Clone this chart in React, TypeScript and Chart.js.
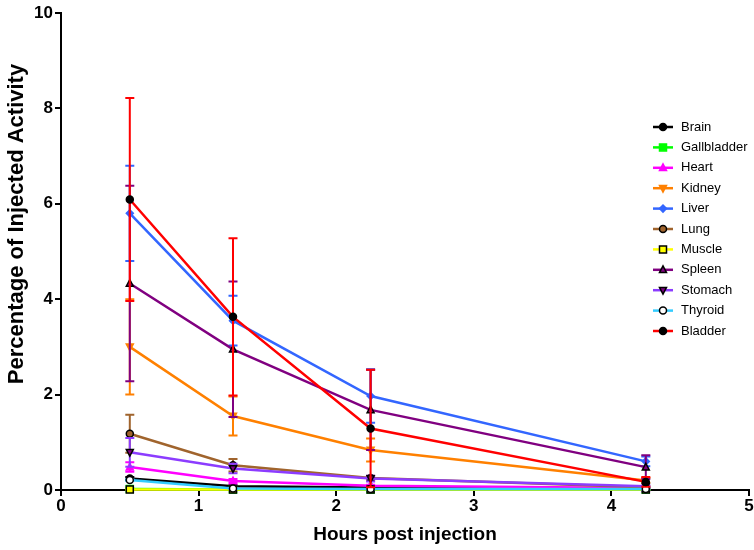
import React, { useEffect, useRef } from "react";
import { Chart, registerables } from "chart.js";

Chart.register(...registerables);

const hours = [0.5, 1.25, 2.25, 4.25];
const organNames = ["Brain", "Gallbladder", "Heart", "Kidney", "Liver", "Lung", "Muscle", "Spleen", "Stomach", "Thyroid", "Bladder"];

const brain = [0.24, 0.08, 0.05, 0.03];
const brainSd = [0.03, 0.02, 0.01, 0.01];
const gallbladder = [0.02, 0.01, 0.01, 0.01];
const gallbladderSd = [0.01, 0.01, 0.01, 0.01];
const heart = [0.48, 0.19, 0.09, 0.04];
const heartSd = [0.1, 0.04, 0.02, 0.01];
const kidney = [3.0, 1.55, 0.84, 0.2];
const kidneySd = [1.0, 0.41, 0.24, 0.05];
const liver = [5.8, 3.55, 1.97, 0.6];
const liverSd = [1.0, 0.52, 0.56, 0.1];
const lung = [1.18, 0.52, 0.25, 0.06];
const lungSd = [0.4, 0.13, 0.05, 0.02];
const muscle = [0.01, 0.01, 0.01, 0.01];
const muscleSd = [0.005, 0.005, 0.005, 0.005];
const spleen = [4.33, 2.95, 1.68, 0.48];
const spleenSd = [2.05, 1.42, 0.84, 0.25];
const stomach = [0.79, 0.45, 0.24, 0.08];
const stomachSd = [0.3, 0.1, 0.06, 0.02];
const thyroid = [0.21, 0.03, 0.02, 0.02];
const thyroidSd = [0.02, 0.01, 0.01, 0.01];
const bladder = [6.09, 3.63, 1.29, 0.17];
const bladderSd = [2.13, 1.65, 1.23, 0.1];

const seriesValues = [brain, gallbladder, heart, kidney, liver, lung, muscle, spleen, stomach, thyroid, bladder];
const seriesSd = [brainSd, gallbladderSd, heartSd, kidneySd, liverSd, lungSd, muscleSd, spleenSd, stomachSd, thyroidSd, bladderSd];

const xTicks = [0, 1, 2, 3, 4, 5];
const yTicks = [0, 2, 4, 6, 8, 10];
const xTitle = "Hours post injection";
const yTitle = "Percentage of Injected Activity";

const lineColors = ["#000000", "#00FF00", "#FF00FF", "#FF8000", "#3366FF", "#A0642D", "#FFFF00", "#800080", "#8C3CFF", "#33CCFF", "#FF0000"];
const markerFill = ["#000000", "#00FF00", "#FF00FF", "#FF8000", "#3366FF", "#A0642D", "#FFFF00", "#800080", "#800080", "#FFFFFF", "#000000"];
const markerBorder = ["#000000", "#00FF00", "#FF00FF", "#FF8000", "#3366FF", "#000000", "#000000", "#000000", "#000000", "#000000", "#000000"];
const markerShape = ["circle", "rect", "triangle", "down", "rectRot", "circle", "rect", "triangle", "down", "circle", "circle"];

const FONT = "'Liberation Sans', Arial, sans-serif";

function drawMarker(ctx: CanvasRenderingContext2D, shape: string, x: number, y: number, r: number, fill: string, stroke: string) {
  ctx.save();
  ctx.beginPath();
  if (shape === "circle") {
    ctx.arc(x, y, r, 0, Math.PI * 2);
  } else if (shape === "rect") {
    ctx.rect(x - r, y - r, 2 * r, 2 * r);
  } else if (shape === "triangle") {
    ctx.moveTo(x, y - r * 1.1);
    ctx.lineTo(x + r, y + r * 0.8);
    ctx.lineTo(x - r, y + r * 0.8);
    ctx.closePath();
  } else if (shape === "down") {
    ctx.moveTo(x, y + r * 1.1);
    ctx.lineTo(x + r, y - r * 0.8);
    ctx.lineTo(x - r, y - r * 0.8);
    ctx.closePath();
  } else if (shape === "rectRot") {
    ctx.moveTo(x, y - r);
    ctx.lineTo(x + r, y);
    ctx.lineTo(x, y + r);
    ctx.lineTo(x - r, y);
    ctx.closePath();
  }
  ctx.fillStyle = fill;
  ctx.fill();
  ctx.lineWidth = 1.5;
  ctx.strokeStyle = stroke;
  ctx.stroke();
  ctx.restore();
}

const errorBarPlugin = {
  id: "errorBars",
  beforeDatasetDraw(chart: any, args: any) {
    const i = args.index;
    const ctx = chart.ctx;
    const xs = chart.scales.x;
    const ys = chart.scales.y;
    const vals = seriesValues[i];
    const sds = seriesSd[i];
    ctx.save();
    ctx.strokeStyle = lineColors[i];
    ctx.lineWidth = 2;
    for (let j = 0; j < vals.length; j++) {
      const px = xs.getPixelForValue(hours[j]);
      const top = ys.getPixelForValue(vals[j] + sds[j]);
      const bot = ys.getPixelForValue(Math.max(0, vals[j] - sds[j]));
      ctx.beginPath();
      ctx.moveTo(px, top);
      ctx.lineTo(px, bot);
      ctx.moveTo(px - 4.5, top);
      ctx.lineTo(px + 4.5, top);
      ctx.moveTo(px - 4.5, bot);
      ctx.lineTo(px + 4.5, bot);
      ctx.stroke();
    }
    ctx.restore();
  },
};

const markerPlugin = {
  id: "markers",
  afterDatasetDraw(chart: any, args: any) {
    const i = args.index;
    const ctx = chart.ctx;
    const xs = chart.scales.x;
    const ys = chart.scales.y;
    const vals = seriesValues[i];
    for (let j = 0; j < vals.length; j++) {
      drawMarker(ctx, markerShape[i], xs.getPixelForValue(hours[j]), ys.getPixelForValue(vals[j]), 3.5, markerFill[i], markerBorder[i]);
    }
  },
};

const legendAndTitles = {
  id: "legendAndTitles",
  afterDraw(chart: any) {
    const ctx = chart.ctx;
    const area = chart.chartArea;
    ctx.save();
    ctx.font = `13px ${FONT}`;
    ctx.textBaseline = "middle";
    ctx.textAlign = "left";
    for (let i = 0; i < organNames.length; i++) {
      const y = 127 + i * 20.4;
      ctx.strokeStyle = lineColors[i];
      ctx.lineWidth = 2.5;
      ctx.beginPath();
      ctx.moveTo(653, y);
      ctx.lineTo(673, y);
      ctx.stroke();
      drawMarker(ctx, markerShape[i], 663, y, 3.5, markerFill[i], markerBorder[i]);
      ctx.fillStyle = "#000";
      ctx.fillText(organNames[i], 681, y);
    }
    ctx.fillStyle = "#000";
    ctx.textAlign = "center";
    ctx.font = `bold 19px ${FONT}`;
    ctx.fillText(xTitle, (area.left + area.right) / 2, 535);
    ctx.translate(17, 224);
    ctx.rotate(-Math.PI / 2);
    ctx.font = `bold 22px ${FONT}`;
    ctx.fillText(yTitle, 0, 0);
    ctx.restore();
  },
};

export default function App() {
  const ref = useRef<HTMLCanvasElement>(null);
  useEffect(() => {
    if (!ref.current) return;
    const datasets = organNames.map((name, i) => ({
      label: name,
      data: hours.map((h, j) => ({ x: h, y: seriesValues[i][j] })),
      borderColor: lineColors[i],
      backgroundColor: lineColors[i],
      borderWidth: 2.5,
      pointRadius: 0,
      pointHoverRadius: 0,
      tension: 0,
      fill: false,
      clip: false as any,
      order: organNames.length - i,
    }));
    const tickFont = { family: FONT, size: 17, weight: "bold" as const };
    const chart = new Chart(ref.current, {
      type: "line",
      data: { datasets },
      plugins: [errorBarPlugin, markerPlugin, legendAndTitles],
      options: {
        animation: false,
        responsive: false,
        layout: { padding: { top: 13, right: 5, left: 0, bottom: 0 } },
        plugins: { legend: { display: false }, tooltip: { enabled: false } },
        scales: {
          x: {
            type: "linear",
            min: 0,
            max: 5,
            afterBuildTicks: (s: any) => { s.ticks = xTicks.map((v) => ({ value: v })); },
            afterFit: (s: any) => { s.height = 60; },
            ticks: { color: "#000", font: tickFont, padding: 0, maxRotation: 0 },
            grid: { drawOnChartArea: false, drawTicks: true, tickLength: 6, color: "#000", lineWidth: 2 },
            border: { display: true, color: "#000", width: 2 },
          },
          y: {
            type: "linear",
            min: 0,
            max: 10,
            afterBuildTicks: (s: any) => { s.ticks = yTicks.map((v) => ({ value: v })); },
            afterFit: (s: any) => { s.width = 61; },
            ticks: { color: "#000", font: tickFont, padding: 2 },
            grid: { drawOnChartArea: false, drawTicks: true, tickLength: 6, color: "#000", lineWidth: 2 },
            border: { display: true, color: "#000", width: 2 },
          },
        },
      },
    });
    return () => chart.destroy();
  }, []);
  return (
    <canvas
      ref={ref}
      width={754}
      height={550}
      style={{ position: "fixed", left: 0, top: 0, width: 754, height: 550, background: "#fff" }}
    />
  );
}
